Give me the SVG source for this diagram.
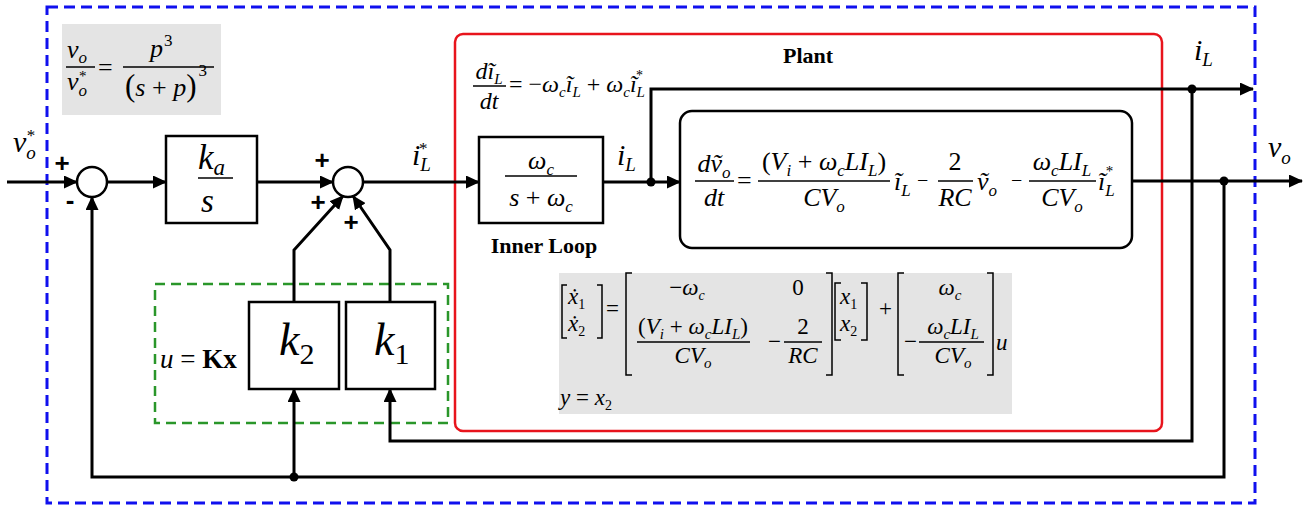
<svg xmlns="http://www.w3.org/2000/svg" width="1309" height="506" viewBox="0 0 1309 506">
<defs>
<style>
text{font-family:"Liberation Serif","DejaVu Serif",serif;font-style:italic;fill:#000}
.n{font-style:normal}
.b{font-style:normal;font-weight:bold}
.pm{font-family:"Liberation Sans",sans-serif;font-style:normal;font-weight:bold;font-size:26px}
.box{fill:#fff;stroke:#000;stroke-width:2.5}
.gray{fill:#e4e4e4}
.w{fill:none;stroke:#000;stroke-width:3}
.ln{stroke:#000;stroke-width:1.5}
.br{fill:none;stroke:#000;stroke-width:1.5}
.e26{font-size:26px}
.e24{font-size:24px}
.e23{font-size:23px}
.dot{fill:#000}
</style>
<marker id="ah" markerUnits="userSpaceOnUse" markerWidth="14" markerHeight="13" viewBox="0 0 14 13" refX="13" refY="6.5" orient="auto"><path d="M0,0L14,6.5L0,13z" fill="#000"/></marker>
</defs>
<rect width="1309" height="506" fill="#fff"/>

<g id="frames">
<rect x="47" y="7" width="1208" height="496" fill="none" stroke="#1010ee" stroke-width="3" stroke-dasharray="11 6"/>
<rect x="455" y="34" width="707" height="397" rx="8" fill="none" stroke="#e8141c" stroke-width="2.5"/>
<rect x="155" y="284" width="293" height="139" fill="none" stroke="#2a962a" stroke-width="2.5" stroke-dasharray="10 6"/>
</g>

<g id="tf">
<rect class="gray" x="62" y="24" width="159" height="91"/>
<text class="e26" x="67" y="58">v<tspan font-size="17" dy="5">o</tspan></text>
<line class="ln" x1="66" y1="67" x2="95" y2="67"/>
<text class="e26" x="67" y="90">v<tspan font-size="17" dy="6">o</tspan><tspan class="n" font-size="15" dx="-8" dy="-15">*</tspan></text>
<text class="n e26" x="98" y="76">=</text>
<text class="e26" x="150" y="57">p<tspan class="n" font-size="17" dx="1" dy="-11">3</tspan></text>
<line class="ln" x1="123" y1="67" x2="214" y2="67"/>
<text class="e26" x="125" y="96"><tspan class="n" font-size="31">(</tspan>s<tspan class="n"> + </tspan>p<tspan class="n" font-size="31">)</tspan><tspan class="n" font-size="17" dx="2" dy="-20">3</tspan></text>
</g>

<g id="connectors">
<line class="w" x1="7" y1="182" x2="77" y2="182" marker-end="url(#ah)"/>
<line class="w" x1="107" y1="182" x2="166" y2="182" marker-end="url(#ah)"/>
<line class="w" x1="257" y1="182" x2="333" y2="182" marker-end="url(#ah)"/>
<line class="w" x1="363" y1="182" x2="479" y2="182" marker-end="url(#ah)"/>
<line class="w" x1="603" y1="182" x2="680" y2="182" marker-end="url(#ah)"/>
<polyline class="w" points="651,182 651,89 1253,89" marker-end="url(#ah)"/>
<line class="w" x1="1132" y1="181" x2="1302" y2="181" marker-end="url(#ah)"/>
<polyline class="w" points="1192,89 1192,441 390,441 390,389" marker-end="url(#ah)"/>
<polyline class="w" points="1224,181 1224,477 92,477 92,197" marker-end="url(#ah)"/>
<line class="w" x1="294" y1="477" x2="294" y2="389" marker-end="url(#ah)"/>
<polyline class="w" points="294,302 294,250 343,196" marker-end="url(#ah)"/>
<polyline class="w" points="390,302 390,250 353,196" marker-end="url(#ah)"/>
<circle class="dot" cx="651" cy="182" r="4.5"/>
<circle class="dot" cx="1192" cy="89" r="4.5"/>
<circle class="dot" cx="1224" cy="181" r="4.5"/>
<circle class="dot" cx="294" cy="477" r="4.5"/>
</g>

<g id="labels">
<text font-size="30" x="13" y="152">v<tspan font-size="19" dy="7">o</tspan><tspan class="n" font-size="17" dx="-9" dy="-18">*</tspan></text>
<text class="pm" x="62" y="172" text-anchor="middle">+</text>
<text class="pm" x="70" y="209" text-anchor="middle">-</text>
<text class="pm" x="322" y="169" text-anchor="middle">+</text>
<text class="pm" x="318" y="211" text-anchor="middle">+</text>
<text class="pm" x="351" y="231" text-anchor="middle">+</text>
<text font-size="30" x="412" y="165">i<tspan font-size="19" dy="6">L</tspan><tspan class="n" font-size="17" dx="-12" dy="-17">*</tspan></text>
<text font-size="30" x="617" y="165">i<tspan font-size="19" dy="6">L</tspan></text>
<text font-size="30" x="1194" y="60">i<tspan font-size="19" dy="6">L</tspan></text>
<text font-size="30" x="1268" y="157">v<tspan font-size="19" dy="7">o</tspan></text>
<text class="b" font-size="22" x="808" y="63" text-anchor="middle">Plant</text>
<text class="b" font-size="22" x="544" y="253" text-anchor="middle">Inner Loop</text>
<text class="e24" x="489" y="79" text-anchor="middle">dĩ<tspan font-size="15" dy="5">L</tspan></text>
<line class="ln" x1="473" y1="86" x2="506" y2="86"/>
<text class="e24" x="489" y="109" text-anchor="middle">dt</text>
<text class="e24" x="509" y="92"><tspan class="n">= −</tspan>ω<tspan font-size="15" dy="5">c</tspan><tspan dy="-5">ĩ</tspan><tspan font-size="15" dy="5">L</tspan><tspan class="n" dy="-5"> + </tspan>ω<tspan font-size="15" dy="5">c</tspan><tspan dy="-5">ĩ</tspan><tspan font-size="15" dy="5">L</tspan><tspan class="n" font-size="14" dx="-9" dy="-17">*</tspan></text>
</g>

<g id="sum1"><circle cx="92" cy="182" r="15" class="box"/></g>
<g id="sum2"><circle cx="348" cy="182" r="15" class="box"/></g>

<g id="integrator">
<rect class="box" x="166" y="136" width="91" height="87"/>
<text font-size="35" x="198" y="169">k<tspan font-size="23" dy="6">a</tspan></text>
<line class="ln" x1="198" y1="178" x2="233" y2="178"/>
<text font-size="33" x="201" y="212">s</text>
</g>

<g id="innerloop">
<rect class="box" x="479" y="137" width="124" height="86"/>
<text class="e26" x="541" y="169" text-anchor="middle">ω<tspan font-size="17" dy="6">c</tspan></text>
<line class="ln" x1="505" y1="176" x2="577" y2="176"/>
<text class="e26" x="541" y="206" text-anchor="middle">s<tspan class="n"> + </tspan>ω<tspan font-size="17" dy="6">c</tspan></text>
</g>

<g id="plant">
<rect class="box" x="680" y="111" width="452" height="137" rx="12"/>
<text class="e26" x="714" y="172" text-anchor="middle">dṽ<tspan font-size="17" dy="6">o</tspan></text>
<line class="ln" x1="695" y1="181" x2="734" y2="181"/>
<text class="e26" x="714" y="206" text-anchor="middle">dt</text>
<text class="n e26" x="737" y="189">=</text>
<text class="e26" x="824" y="170" text-anchor="middle"><tspan class="n">(</tspan>V<tspan font-size="17" dy="6">i</tspan><tspan class="n" dy="-6"> + </tspan>ω<tspan font-size="17" dy="6">c</tspan><tspan dy="-6">LI</tspan><tspan font-size="17" dy="6">L</tspan><tspan class="n" dy="-6">)</tspan></text>
<line class="ln" x1="758" y1="181" x2="890" y2="181"/>
<text class="e26" x="824" y="206" text-anchor="middle">CV<tspan font-size="17" dy="6">o</tspan></text>
<text class="e26" x="894" y="190">ĩ<tspan font-size="17" dy="6">L</tspan></text>
<text class="n" font-size="20" x="917" y="187">−</text>
<text class="n e26" x="955" y="170" text-anchor="middle">2</text>
<line class="ln" x1="938" y1="181" x2="973" y2="181"/>
<text class="e26" x="955" y="206" text-anchor="middle">RC</text>
<text class="e26" x="977" y="190">ṽ<tspan font-size="17" dy="6">o</tspan></text>
<text class="n" font-size="20" x="1011" y="187">−</text>
<text class="e26" x="1062" y="170" text-anchor="middle">ω<tspan font-size="17" dy="6">c</tspan><tspan dy="-6">LI</tspan><tspan font-size="17" dy="6">L</tspan></text>
<line class="ln" x1="1029" y1="181" x2="1096" y2="181"/>
<text class="e26" x="1062" y="206" text-anchor="middle">CV<tspan font-size="17" dy="6">o</tspan></text>
<text class="e26" x="1098" y="190">ĩ<tspan font-size="17" dy="6">L</tspan><tspan class="n" font-size="15" dx="-9" dy="-20">*</tspan></text>
</g>

<g id="statespace">
<rect class="gray" x="559" y="273" width="453" height="141"/>
<path class="br" d="M567,285H562V338H567M597,285H602V338H597"/>
<text class="e23" x="568" y="304">ẋ<tspan class="n" font-size="14" dy="5">1</tspan></text>
<text class="e23" x="568" y="331">ẋ<tspan class="n" font-size="14" dy="5">2</tspan></text>
<text class="n e23" x="606" y="316">=</text>
<path class="br" d="M632,273H626V375H632M826,273H832V375H826"/>
<text class="e23" x="687" y="295" text-anchor="middle"><tspan class="n">−</tspan>ω<tspan font-size="14" dy="5">c</tspan></text>
<text class="n e23" x="798" y="295" text-anchor="middle">0</text>
<text class="e23" x="693" y="334" text-anchor="middle"><tspan class="n">(</tspan>V<tspan font-size="15" dy="5">i</tspan><tspan class="n" dy="-5"> + </tspan>ω<tspan font-size="15" dy="5">c</tspan><tspan dy="-5">LI</tspan><tspan font-size="15" dy="5">L</tspan><tspan class="n" dy="-5">)</tspan></text>
<line class="ln" x1="637" y1="342" x2="750" y2="342"/>
<text class="e23" x="693" y="363" text-anchor="middle">CV<tspan font-size="15" dy="5">o</tspan></text>
<text class="n e23" x="768" y="349">−</text>
<text class="n e23" x="803" y="334" text-anchor="middle">2</text>
<line class="ln" x1="784" y1="342" x2="822" y2="342"/>
<text class="e23" x="803" y="363" text-anchor="middle">RC</text>
<path class="br" d="M841,283H835V340H841M861,283H867V340H861"/>
<text class="e23" x="840" y="304">x<tspan class="n" font-size="14" dy="5">1</tspan></text>
<text class="e23" x="840" y="331">x<tspan class="n" font-size="14" dy="5">2</tspan></text>
<text class="n e23" x="879" y="316">+</text>
<path class="br" d="M904,273H898V375H904M987,273H993V375H987"/>
<text class="e23" x="950" y="295" text-anchor="middle">ω<tspan font-size="15" dy="5">c</tspan></text>
<text class="n e23" x="904" y="349">−</text>
<text class="e23" x="953" y="334" text-anchor="middle">ω<tspan font-size="15" dy="5">c</tspan><tspan dy="-5">LI</tspan><tspan font-size="15" dy="5">L</tspan></text>
<line class="ln" x1="919" y1="342" x2="984" y2="342"/>
<text class="e23" x="953" y="363" text-anchor="middle">CV<tspan font-size="15" dy="5">o</tspan></text>
<text class="e23" x="996" y="350">u</text>
<text class="e23" x="560" y="405">y<tspan class="n"> = </tspan>x<tspan class="n" font-size="14" dy="5">2</tspan></text>
</g>

<g id="gain">
<text font-size="27" x="160" y="368">u<tspan class="n"> = </tspan><tspan class="b">Kx</tspan></text>
</g>
<g id="k2">
<rect class="box" x="249" y="302" width="90" height="87"/>
<text font-size="46" x="279" y="355">k<tspan class="n" font-size="30" dy="9">2</tspan></text>
</g>
<g id="k1">
<rect class="box" x="346" y="302" width="89" height="87"/>
<text font-size="46" x="374" y="355">k<tspan class="n" font-size="30" dy="9">1</tspan></text>
</g>
</svg>
